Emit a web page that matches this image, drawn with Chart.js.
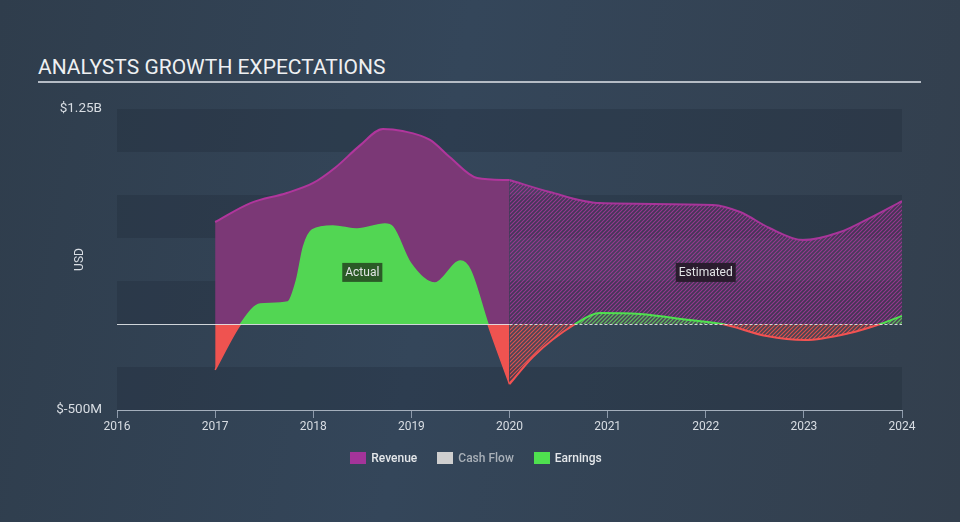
<!DOCTYPE html>
<html>
<head>
<meta charset="utf-8">
<script src="https://cdn.jsdelivr.net/npm/chart.js@4.4.1/dist/chart.umd.min.js"></script>
<style>
  html, body { margin: 0; padding: 0; }
  body {
    width: 960px; height: 522px; overflow: hidden; position: relative;
    background: linear-gradient(100deg, #2f3d4c 0%, #34465a 45%, #333f4d 100%);
    font-family: Roboto, sans-serif;
  }
  #title { position: absolute; left: 38px; top: 55px; color: #eef0f2; font-size: 21px; }
  #rule { position: absolute; left: 38px; top: 81px; width: 883px; height: 2px; background: #b5bcc5; }
  #chart { position: absolute; left: 0; top: 0; }
  #legend {
    position: absolute; top: 451px; left: -4px; width: 960px;
    display: flex; justify-content: center; gap: 20px;
    font-size: 12px; font-weight: 500; color: #e4e7ea;
  }
  .item { display: flex; align-items: center; }
  .box { width: 16px; height: 12px; margin-right: 5px; }
</style>
</head>
<body>
<div id="title">ANALYSTS GROWTH EXPECTATIONS</div>
<div id="rule"></div>
<canvas id="chart" width="960" height="522"></canvas>
<div id="legend">
  <div class="item"><span class="box" style="background:#a4349a"></span>Revenue</div>
  <div class="item" style="color:#a9b0b8"><span class="box" style="background:#cfcfcf"></span>Cash Flow</div>
  <div class="item"><span class="box" style="background:#4fe04f"></span>Earnings</div>
</div>
<script>
// values in billions of USD, x in decimal years
const revActualYears = [2017.0, 2017.36, 2017.73, 2018.0, 2018.22, 2018.48, 2018.71, 2018.91, 2019.19, 2019.39, 2019.67, 2020.0];
const revActualValues = [0.593, 0.703, 0.762, 0.82, 0.907, 1.04, 1.134, 1.122, 1.07, 0.971, 0.849, 0.837];
const revEstYears = [2020.0, 2020.41, 2020.92, 2022.07, 2022.35, 2022.65, 2022.99, 2023.37, 2023.67, 2024.0];
const revEstValues = [0.837, 0.767, 0.703, 0.692, 0.651, 0.558, 0.488, 0.535, 0.616, 0.715];

const earnActualYears = [2017.0, 2017.26, 2017.46, 2017.74, 2017.83, 2017.9, 2017.99, 2018.2, 2018.45, 2018.73, 2018.81, 2018.99, 2019.24, 2019.5, 2019.6, 2019.78, 2020.0];
const earnActualValues = [-0.267, 0.0, 0.116, 0.128, 0.256, 0.448, 0.547, 0.57, 0.552, 0.581, 0.564, 0.355, 0.238, 0.366, 0.314, 0.0, -0.35];
const earnEstYears = [2020.0, 2020.24, 2020.67, 2020.92, 2021.33, 2021.84, 2022.17, 2022.62, 2023.01, 2023.47, 2023.78, 2024.0];
const earnEstValues = [-0.35, -0.19, 0.0, 0.064, 0.058, 0.023, 0.0, -0.07, -0.093, -0.052, 0.0, 0.047];

const yTickValues = [1.25, -0.5];
const yTickLabels = ["$1.25B", "$-500M"];
const phaseLabels = ["Actual", "Estimated"];
const phaseYears = [2018.5, 2022.0];
const phaseValue = 0.3;

Chart.defaults.font.family = "Roboto, sans-serif";

const toPoints = (xs, ys) => xs.map((x, i) => ({ x: x, y: ys[i] }));

function hatch(line, base) {
  const c = document.createElement("canvas");
  c.width = 4; c.height = 4;
  const g = c.getContext("2d");
  if (base) { g.fillStyle = base; g.fillRect(0, 0, 4, 4); }
  g.strokeStyle = line;
  g.lineWidth = 1.1;
  g.beginPath();
  g.moveTo(0, 4); g.lineTo(4, 0);
  g.moveTo(-1, 1); g.lineTo(1, -1);
  g.moveTo(3, 5); g.lineTo(5, 3);
  g.stroke();
  return g.createPattern(c, "repeat");
}

function signColor(context, up, down) {
  const chart = context.chart;
  const area = chart.chartArea;
  if (!area) return up;
  const y0 = chart.scales.y.getPixelForValue(0);
  const s = Math.min(1, Math.max(0, (y0 - area.top) / (area.bottom - area.top)));
  const g = chart.ctx.createLinearGradient(0, area.top, 0, area.bottom);
  g.addColorStop(0, up); g.addColorStop(s, up);
  g.addColorStop(s, down); g.addColorStop(1, down);
  return g;
}

const revHatch = hatch("rgba(168,56,154,0.85)", "rgba(110,50,108,0.35)");
const greenHatch = hatch("rgba(82,214,83,0.9)", "rgba(82,214,83,0.12)");
const redHatch = hatch("rgba(239,83,80,0.9)", "rgba(239,83,80,0.12)");

const bands = {
  id: "bands",
  beforeDraw(chart) {
    const { ctx, chartArea: a, scales: { y } } = chart;
    const ticks = y.ticks;
    ctx.save();
    ctx.fillStyle = "rgba(25,33,44,0.22)";
    for (let i = 0; i < ticks.length - 1; i += 2) {
      const top = y.getPixelForValue(ticks[i + 1].value);
      const bottom = y.getPixelForValue(ticks[i].value);
      ctx.fillRect(a.left, top, a.right - a.left, bottom - top);
    }
    ctx.restore();
  }
};

const overlays = {
  id: "overlays",
  afterDatasetsDraw(chart) {
    const { ctx, chartArea: a, scales: { x, y } } = chart;
    const y0 = Math.round(y.getPixelForValue(0)) + 0.5;
    const split = x.getPixelForValue(2020);
    ctx.save();
    ctx.strokeStyle = "rgba(225,228,232,0.9)";
    ctx.lineWidth = 1;
    ctx.beginPath(); ctx.moveTo(a.left, y0); ctx.lineTo(split, y0); ctx.stroke();
    ctx.setLineDash([3, 2]);
    ctx.beginPath(); ctx.moveTo(split, y0); ctx.lineTo(a.right, y0); ctx.stroke();
    ctx.setLineDash([]);

    ctx.font = "12px Roboto, sans-serif";
    ctx.textAlign = "center";
    ctx.textBaseline = "middle";
    const fills = ["#2b5a27", "#2a1c2e"];
    phaseLabels.forEach((t, i) => {
      const cx = x.getPixelForValue(phaseYears[i]);
      const cy = y.getPixelForValue(phaseValue);
      const w = ctx.measureText(t).width + 6;
      ctx.fillStyle = fills[i];
      ctx.fillRect(cx - w / 2, cy - 9.5, w, 19);
      ctx.fillStyle = "#e2e4e6";
      ctx.fillText(t, cx, cy + 0.5);
    });

    ctx.translate(a.left - 37, (a.top + a.bottom) / 2);
    ctx.rotate(-Math.PI / 2);
    ctx.fillStyle = "#d8dde3";
    ctx.fillText("USD", 0, 0);
    ctx.restore();
  }
};

new Chart(document.getElementById("chart"), {
  type: "line",
  data: {
    datasets: [
      {
        label: "Earnings",
        data: toPoints(earnActualYears, earnActualValues),
        borderColor: (c) => signColor(c, "#52d653", "#ef5350"),
        borderWidth: 1.5,
        fill: { target: "origin", above: "#52d653", below: "#ef5350" },
      },
      {
        label: "Earnings (est.)",
        data: toPoints(earnEstYears, earnEstValues),
        borderColor: (c) => signColor(c, "#4fe04f", "#f25252"),
        borderWidth: 2,
        fill: { target: "origin", above: greenHatch, below: redHatch },
      },
      {
        label: "Revenue",
        data: toPoints(revActualYears, revActualValues),
        borderColor: "#b0369c",
        backgroundColor: "#7b3876",
        borderWidth: 2,
        fill: "origin",
      },
      {
        label: "Revenue (est.)",
        data: toPoints(revEstYears, revEstValues),
        borderColor: "#a8359a",
        backgroundColor: revHatch,
        borderWidth: 2,
        fill: "origin",
      },
    ],
  },
  options: {
    responsive: false,
    animation: false,
    devicePixelRatio: 1,
    layout: { padding: { left: 0, right: 58, top: 109, bottom: 82 } },
    elements: {
      point: { radius: 0 },
      line: { cubicInterpolationMode: "monotone" },
    },
    plugins: { legend: { display: false }, tooltip: { enabled: false } },
    scales: {
      x: {
        type: "linear",
        min: 2016,
        max: 2024,
        afterFit: (s) => { s.height = 30; },
        ticks: { stepSize: 1, color: "#d8dde3", font: { size: 12 }, padding: 2, callback: (v) => String(v) },
        grid: { drawOnChartArea: false, drawTicks: true, tickLength: 8, color: "#8d9aab" },
        border: { display: true, color: "#a4afbc" },
      },
      y: {
        min: -0.5,
        max: 1.25,
        afterFit: (s) => { s.width = 117; },
        ticks: {
          stepSize: 0.25,
          color: "#d8dde3",
          font: { size: 13.5 },
          padding: 7,
          callback: (v) => {
            const i = yTickValues.findIndex((t) => Math.abs(t - v) < 1e-6);
            return i >= 0 ? yTickLabels[i] : "";
          },
        },
        grid: { display: false },
        border: { display: false },
      },
    },
  },
  plugins: [bands, overlays],
});
</script>
</body>
</html>
